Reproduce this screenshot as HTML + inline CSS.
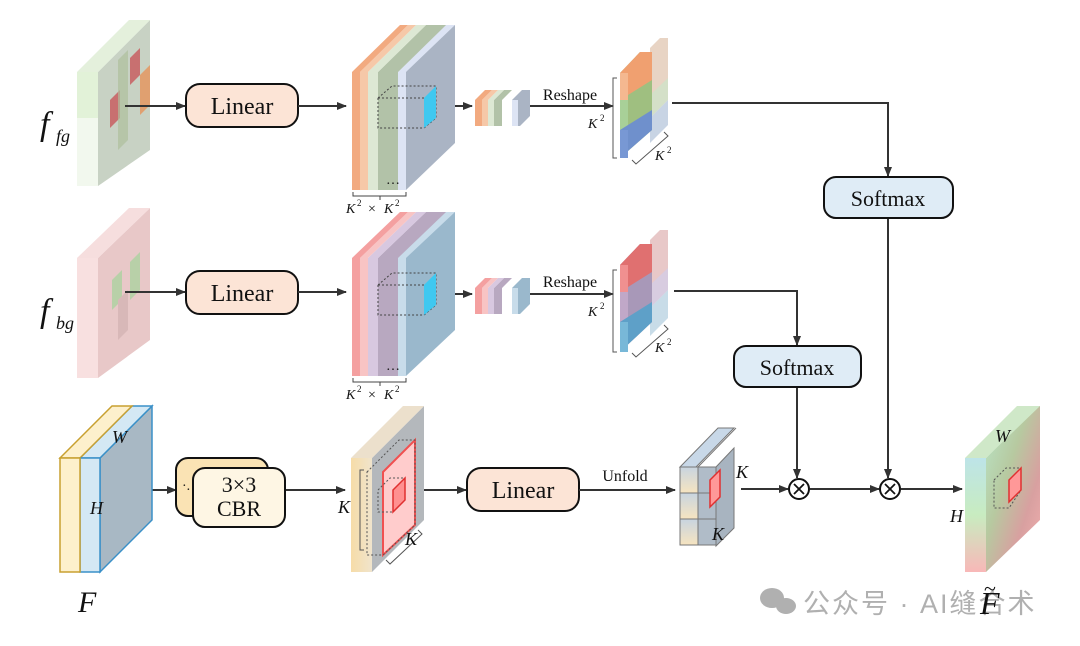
<!DOCTYPE html>
<html><head><meta charset="utf-8"><style>
html,body{margin:0;padding:0;background:#fff;}
svg{display:block}
text{font-family:"Liberation Serif",serif;fill:#111}
</style></head><body>
<svg width="1080" height="646" viewBox="0 0 1080 646" xmlns="http://www.w3.org/2000/svg">
<defs>
<marker id="ah" markerWidth="10" markerHeight="8" refX="9" refY="4" orient="auto" markerUnits="userSpaceOnUse"><path d="M0,0 L10,4 L0,8 z" fill="#333"/></marker>
<linearGradient id="outg" x1="0" y1="0" x2="1" y2="1"><stop offset="0" stop-color="#b8e6c8"/><stop offset="0.4" stop-color="#b7c9a0"/><stop offset="0.7" stop-color="#d8a0a0"/><stop offset="1" stop-color="#f4b0b0"/></linearGradient>
<linearGradient id="outf" x1="0" y1="0" x2="0" y2="1"><stop offset="0" stop-color="#bde4e8"/><stop offset="0.5" stop-color="#c8ecc0"/><stop offset="1" stop-color="#f8b8b8"/></linearGradient>
<linearGradient id="slabg" x1="0" y1="0" x2="1" y2="0"><stop offset="0" stop-color="#f6dca8"/><stop offset="1" stop-color="#f0e4cc"/></linearGradient>
<linearGradient id="cellg" x1="0" y1="0" x2="0" y2="1"><stop offset="0" stop-color="#c8d4e0"/><stop offset="1" stop-color="#f6e4c0"/></linearGradient>
</defs>

<!-- f_fg cube -->
<polygon points="98,72 150,20 150,150 98,186" fill="#c8d2c4"/>
<polygon points="77,72 129,20 150,20 98,72" fill="#e4f0dc"/>
<rect x="77" y="72" width="21" height="114" fill="#e2f2d8"/>
<rect x="77" y="118" width="21" height="68" fill="#f2f8ee"/>
<polygon points="110,100 120,90 120,118 110,128" fill="#c87070"/>
<polygon points="130,58 140,48 140,75 130,85" fill="#c87070"/>
<polygon points="140,75 150,65 150,105 140,115" fill="#e0a070"/>
<polygon points="118,60 128,50 128,140 118,150" fill="#aebf9c" opacity="0.7"/>
<text x="40" y="135" font-size="34" font-style="italic">f</text><text x="56" y="142" font-size="18" font-style="italic">fg</text>

<!-- f_bg cube -->
<polygon points="98,258 150,208 150,340 98,378" fill="#e8c8c8"/>
<polygon points="77,258 129,208 150,208 98,258" fill="#f6dede"/>
<rect x="77" y="258" width="21" height="120" fill="#f8e0e0"/>
<polygon points="112,280 122,270 122,300 112,310" fill="#b8d0a8"/>
<polygon points="130,262 140,252 140,290 130,300" fill="#b8d0a8"/>
<polygon points="118,300 128,290 128,330 118,340" fill="#d8b8b8"/>
<text x="40" y="322" font-size="34" font-style="italic">f</text><text x="56" y="329" font-size="18" font-style="italic">bg</text>

<!-- Linear boxes -->
<g stroke="#111" stroke-width="2">
<rect x="186" y="84" width="112" height="43" rx="14" fill="#fce4d6"/>
<rect x="186" y="271" width="112" height="43" rx="14" fill="#fce4d6"/>
<rect x="467" y="468" width="112" height="43" rx="14" fill="#fce4d6"/>
</g>
<text x="242" y="114" font-size="24" text-anchor="middle">Linear</text>
<text x="242" y="301" font-size="24" text-anchor="middle">Linear</text>
<text x="523" y="498" font-size="24" text-anchor="middle">Linear</text>

<!-- arrows -->
<g stroke="#333" stroke-width="2" fill="none" marker-end="url(#ah)">
<line x1="125" y1="106" x2="185" y2="106"/>
<line x1="298" y1="106" x2="346" y2="106"/>
<line x1="125" y1="292" x2="185" y2="292"/>
<line x1="298" y1="292" x2="346" y2="292"/>
<line x1="436" y1="106" x2="472" y2="106"/>
<line x1="436" y1="294" x2="472" y2="294"/>
<line x1="530" y1="106" x2="613" y2="106"/>
<line x1="530" y1="294" x2="613" y2="294"/>
<polyline points="672,103 888,103 888,176"/>
<line x1="888" y1="218" x2="888" y2="478"/>
<polyline points="674,291 797,291 797,345"/>
<line x1="797" y1="388" x2="797" y2="478"/>
<line x1="125" y1="490" x2="176" y2="490"/>
<line x1="285" y1="490" x2="345" y2="490"/>
<line x1="410" y1="490" x2="466" y2="490"/>
<line x1="579" y1="490" x2="675" y2="490"/>
<line x1="741" y1="489" x2="788" y2="489"/>
<line x1="810" y1="489" x2="879" y2="489"/>
<line x1="901" y1="489" x2="962" y2="489"/>
</g>
<text x="570" y="100" font-size="16" text-anchor="middle">Reshape</text>
<text x="570" y="287" font-size="16" text-anchor="middle">Reshape</text>
<text x="625" y="481" font-size="16" text-anchor="middle">Unfold</text>

<!-- stack 1 -->
<g>
<polygon points="398,72 446,25 455,25 455,143 406,190 398,190" fill="#aab4c4"/>
<polygon points="398,72 446,25 455,25 406,72" fill="#dde4f4"/><rect x="398" y="72" width="8" height="118" fill="#dde4f4"/>
<polygon points="378,72 426,25 446,25 398,72 398,190 378,190" fill="#b2c2a8"/>
<polygon points="368,72 416,25 426,25 378,72 378,190 368,190" fill="#dde8d4"/>
<polygon points="360,72 408,25 416,25 368,72 368,190 360,190" fill="#f6c8a8"/>
<polygon points="352,72 400,25 408,25 360,72 360,190 352,190" fill="#f2aa80"/>
</g>
<g fill="none" stroke="#444" stroke-width="1" stroke-dasharray="2,2">
<polygon points="378,98 392,86 436,86 436,118 424,128 378,128"/><line x1="378" y1="98" x2="424" y2="98"/>
</g>
<polygon points="424,98 436,86 436,118 424,128" fill="#3fc8f0"/>
<text x="386" y="184" font-size="14">…</text>
<path d="M353,192 v4 h53 v-4 M380,196 v4" stroke="#444" fill="none"/>
<text x="346" y="213" font-size="14" font-style="italic">K</text><text x="357" y="206" font-size="9">2</text><text x="368" y="213" font-size="14">×</text><text x="384" y="213" font-size="14" font-style="italic">K</text><text x="395" y="206" font-size="9">2</text>

<!-- stack 2 -->
<g>
<polygon points="398,258 446,212 455,212 455,330 406,376 398,376" fill="#9ab8cc"/>
<polygon points="398,258 446,212 455,212 406,258" fill="#c8dcea"/><rect x="398" y="258" width="8" height="118" fill="#c8dcea"/>
<polygon points="378,258 426,212 446,212 398,258 398,376 378,376" fill="#b8a8c0"/>
<polygon points="368,258 416,212 426,212 378,258 378,376 368,376" fill="#d8c8e0"/>
<polygon points="360,258 408,212 416,212 368,258 368,376 360,376" fill="#f8c4c4"/>
<polygon points="352,258 400,212 408,212 360,258 360,376 352,376" fill="#f4a0a0"/>
</g>
<g fill="none" stroke="#444" stroke-width="1" stroke-dasharray="2,2">
<polygon points="378,285 392,273 436,273 436,305 424,315 378,315"/><line x1="378" y1="285" x2="424" y2="285"/>
</g>
<polygon points="424,285 436,273 436,305 424,315" fill="#3fc8f0"/>
<text x="386" y="370" font-size="14">…</text>
<path d="M353,378 v4 h53 v-4 M380,382 v4" stroke="#444" fill="none"/>
<text x="346" y="399" font-size="14" font-style="italic">K</text><text x="357" y="392" font-size="9">2</text><text x="368" y="399" font-size="14">×</text><text x="384" y="399" font-size="14" font-style="italic">K</text><text x="395" y="392" font-size="9">2</text>

<!-- small stacks -->
<g>
<polygon points="512,100 522,90 530,90 530,116 520,126 512,126" fill="#aab4c4"/><rect x="512" y="100" width="6" height="26" fill="#dde4f4"/>
<polygon points="494,100 504,90 512,90 502,100 502,126 494,126" fill="#b2c2a8"/>
<polygon points="488,100 498,90 504,90 494,100 494,126 488,126" fill="#dde8d4"/>
<polygon points="482,100 492,90 498,90 488,100 488,126 482,126" fill="#f6c8a8"/>
<polygon points="475,100 485,90 492,90 482,100 482,126 475,126" fill="#f2aa80"/>
<polygon points="512,288 522,278 530,278 530,304 520,314 512,314" fill="#9ab8cc"/><rect x="512" y="288" width="6" height="26" fill="#c8dcea"/>
<polygon points="494,288 504,278 512,278 502,288 502,314 494,314" fill="#b8a8c0"/>
<polygon points="488,288 498,278 504,278 494,288 494,314 488,314" fill="#d8c8e0"/>
<polygon points="482,288 492,278 498,278 488,288 488,314 482,314" fill="#f8c4c4"/>
<polygon points="475,288 485,278 492,278 482,288 482,314 475,314" fill="#f4a0a0"/>
</g>

<!-- reshaped 1 -->
<g>
<polygon points="650,48 660,38 668,38 668,100 650,118" fill="#e8d4c4"/>
<polygon points="650,95 668,78 668,100 650,118" fill="#d4e0c8"/>
<polygon points="650,118 668,100 668,125 650,143" fill="#c8d4e4"/>
<polygon points="620,73 640,52 652,52 652,130 620,158" fill="#9fbf80"/>
<polygon points="620,73 640,52 652,52 652,80 620,100" fill="#f0a070"/>
<rect x="620" y="73" width="8" height="27" fill="#f4b890"/>
<rect x="620" y="100" width="8" height="30" fill="#a8d098"/>
<polygon points="620,130 652,110 652,130 620,158" fill="#6f90cc"/><rect x="620" y="130" width="8" height="28" fill="#7898d4"/>
</g>
<path d="M617,78 h-4 v80 h4" stroke="#555" fill="none"/>
<text x="588" y="128" font-size="14" font-style="italic">K</text><text x="600" y="121" font-size="9">2</text>
<path d="M632,160 l4,4 l32,-28 l-4,-4" stroke="#555" fill="none"/>
<text x="655" y="160" font-size="14" font-style="italic">K</text><text x="667" y="153" font-size="9">2</text>

<!-- reshaped 2 -->
<g>
<polygon points="650,240 660,230 668,230 668,290 650,308" fill="#e8c8c8"/>
<polygon points="650,285 668,268 668,290 650,308" fill="#d8cce0"/>
<polygon points="650,308 668,290 668,318 650,336" fill="#c8dce8"/>
<polygon points="620,265 640,244 652,244 652,322 620,352" fill="#a898b8"/>
<polygon points="620,265 640,244 652,244 652,272 620,292" fill="#e07070"/>
<rect x="620" y="265" width="8" height="27" fill="#f09090"/>
<rect x="620" y="292" width="8" height="30" fill="#c0a8c8"/>
<polygon points="620,322 652,302 652,322 620,352" fill="#5ea0c8"/><rect x="620" y="322" width="8" height="30" fill="#78b8d8"/>
</g>
<path d="M617,270 h-4 v82 h4" stroke="#555" fill="none"/>
<text x="588" y="316" font-size="14" font-style="italic">K</text><text x="600" y="309" font-size="9">2</text>
<path d="M632,353 l4,4 l32,-28 l-4,-4" stroke="#555" fill="none"/>
<text x="655" y="352" font-size="14" font-style="italic">K</text><text x="667" y="345" font-size="9">2</text>

<!-- Softmax -->
<g stroke="#111" stroke-width="2" fill="#dfecf6">
<rect x="824" y="177" width="129" height="41" rx="12"/>
<rect x="734" y="346" width="127" height="41" rx="12"/>
</g>
<text x="888" y="206" font-size="22" text-anchor="middle">Softmax</text>
<text x="797" y="375" font-size="22" text-anchor="middle">Softmax</text>

<!-- F cube -->
<polygon points="100,458 152,406 152,520 100,572" fill="#a8b8c4" stroke="#3a90c8" stroke-width="1.5"/>
<polygon points="80,458 132,406 152,406 100,458" fill="#d4e8f4" stroke="#3a90c8" stroke-width="1.5"/>
<polygon points="60,458 112,406 132,406 80,458" fill="#fdf0cc" stroke="#c8a030" stroke-width="1.5"/>
<rect x="80" y="458" width="20" height="114" fill="#d4e8f4" stroke="#3a90c8" stroke-width="1.5"/>
<rect x="60" y="458" width="20" height="114" fill="#fdf0cc" stroke="#c8a030" stroke-width="1.5"/>
<text x="112" y="443" font-size="18" font-style="italic">W</text>
<text x="90" y="514" font-size="18" font-style="italic">H</text>
<text x="78" y="612" font-size="30" font-style="italic">F</text>

<!-- CBR -->
<rect x="176" y="458" width="92" height="58" rx="12" fill="#fae3b4" stroke="#111" stroke-width="2"/>
<rect x="193" y="468" width="92" height="59" rx="12" fill="#fef6e4" stroke="#111" stroke-width="2"/>
<text x="182" y="490" font-size="14">·.</text>
<text x="239" y="492" font-size="22" text-anchor="middle">3×3</text>
<text x="239" y="516" font-size="22" text-anchor="middle">CBR</text>

<!-- slab -->
<polygon points="372,458 424,406 424,520 372,572" fill="#b4b8bc"/>
<polygon points="351,458 403,406 424,406 372,458" fill="#ece0cc"/>
<rect x="351" y="458" width="21" height="114" fill="url(#slabg)"/>
<polygon points="383,472 415,440 415,525 383,555" fill="#ffcccc" stroke="#f05050" stroke-width="2"/>
<g fill="none" stroke="#555" stroke-width="1" stroke-dasharray="2,2">
<polygon points="367,472 399,440 415,440 415,525 383,555 367,555"/>
<polygon points="378,490 390,478 405,478 405,500 393,512 378,512"/>
</g>
<polygon points="393,490 405,478 405,500 393,512" fill="#ff9090" stroke="#e03030" stroke-width="1.5"/>
<path d="M364,470 h-4 v80 h4" stroke="#555" fill="none"/>
<text x="338" y="513" font-size="18" font-style="italic">K</text>
<path d="M386,560 l4,4 l32,-30 l-4,-4" stroke="#555" fill="none"/>
<text x="405" y="545" font-size="18" font-style="italic">K</text>

<!-- grid cube -->
<g stroke="#777" stroke-width="1">
<polygon points="680,467 718,428 734,428 696,467" fill="#c8d8e8"/>
<polygon points="716,467 734,448 734,528 716,546" fill="#a8b4c0"/>
<rect x="680" y="467" width="18" height="26" fill="url(#cellg)"/>
<rect x="680" y="493" width="18" height="26" fill="url(#cellg)"/>
<rect x="680" y="519" width="18" height="26" fill="url(#cellg)"/>
<rect x="698" y="467" width="18" height="26" fill="#b0bcc8"/>
<rect x="698" y="493" width="18" height="26" fill="#b0bcc8"/>
<rect x="698" y="519" width="18" height="26" fill="#b0bcc8"/>
<line x1="698" y1="467" x2="736" y2="428"/>
<line x1="680" y1="467" x2="716" y2="467"/>
</g>
<polygon points="710,480 720,470 720,497 710,507" fill="#ff9898" stroke="#e03030" stroke-width="1.5"/>
<text x="736" y="478" font-size="18" font-style="italic">K</text>
<text x="712" y="540" font-size="18" font-style="italic">K</text>

<!-- circles -->
<g stroke="#111" stroke-width="2" fill="#fff">
<circle cx="799" cy="489" r="10"/><circle cx="890" cy="489" r="10"/>
</g>
<g stroke="#111" stroke-width="1.8">
<path d="M794,484 l10,10 M804,484 l-10,10"/><path d="M885,484 l10,10 M895,484 l-10,10"/>
</g>

<!-- output -->
<polygon points="986,458 1038,406 1040,406 1040,520 986,572" fill="url(#outg)"/>
<polygon points="965,458 1017,406 1040,406 986,458" fill="#cfe8c8"/>
<rect x="965" y="458" width="21" height="114" fill="url(#outf)"/>
<g fill="none" stroke="#555" stroke-width="1" stroke-dasharray="2,2">
<polygon points="994,480 1006,468 1021,468 1021,490 1009,508 994,508"/>
</g>
<polygon points="1009,480 1021,468 1021,490 1009,502" fill="#ff9898" stroke="#e03030" stroke-width="1.5"/>
<text x="995" y="442" font-size="18" font-style="italic">W</text>
<text x="950" y="522" font-size="18" font-style="italic">H</text>

<!-- watermark -->
<g fill="#b0b0b0">
<ellipse cx="772" cy="598" rx="12" ry="10"/><ellipse cx="786" cy="606" rx="10" ry="8"/>
</g>
<text x="803" y="613" font-size="27" letter-spacing="2" style="font-family:'Liberation Sans','Noto Sans CJK SC',sans-serif;fill:#b0b0b0">公众号 · AI缝合术</text>
<text x="980" y="614" font-size="32" font-style="italic">F</text>
<text x="984" y="596" font-size="22">~</text>
</svg>
</body></html>
